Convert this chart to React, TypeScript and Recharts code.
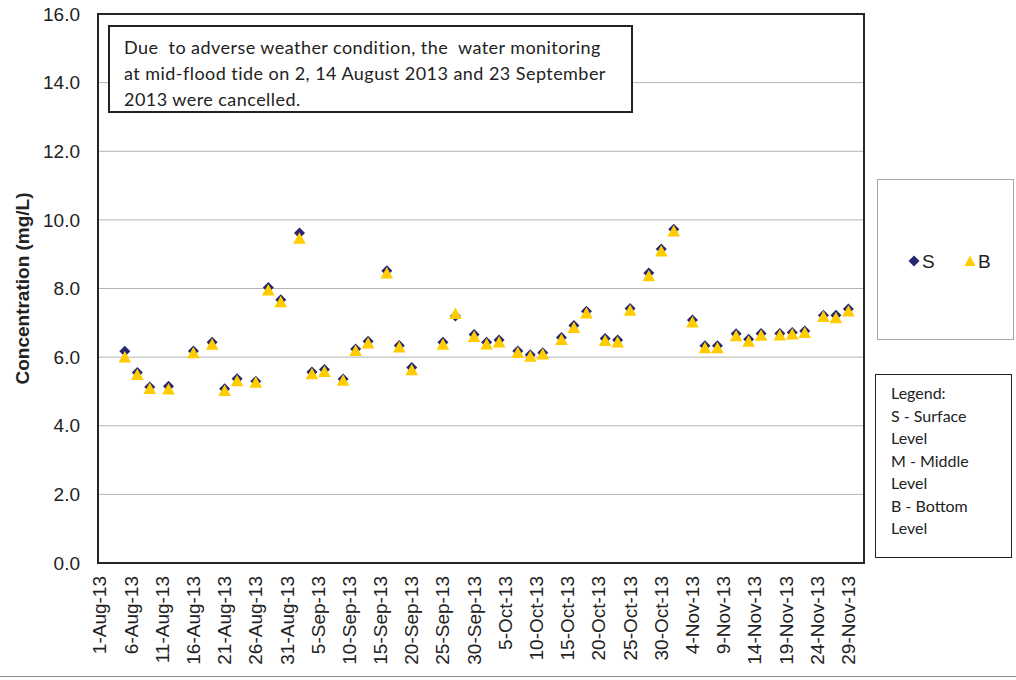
import { CartesianGrid, Legend, ReferenceArea, Scatter, ScatterChart, XAxis, YAxis } from 'recharts'

// fechas de muestreo (lun/mié/vie), sin 2-Ago, 14-Ago y 23-Sep
const fechas = [
  '2013-08-05', '2013-08-07', '2013-08-09', '2013-08-12', '2013-08-16', '2013-08-19', '2013-08-21', '2013-08-23',
  '2013-08-26', '2013-08-28', '2013-08-30',
  '2013-09-02', '2013-09-04', '2013-09-06', '2013-09-09', '2013-09-11', '2013-09-13', '2013-09-16', '2013-09-18',
  '2013-09-20', '2013-09-25', '2013-09-27', '2013-09-30',
  '2013-10-02', '2013-10-04', '2013-10-07', '2013-10-09', '2013-10-11', '2013-10-14', '2013-10-16', '2013-10-18',
  '2013-10-21', '2013-10-23', '2013-10-25', '2013-10-28', '2013-10-30',
  '2013-11-01', '2013-11-04', '2013-11-06', '2013-11-08', '2013-11-11', '2013-11-13', '2013-11-15', '2013-11-18',
  '2013-11-20', '2013-11-22', '2013-11-25', '2013-11-27', '2013-11-29',
]

const superficie = [
  6.17, 5.55, 5.13, 5.15, 6.18, 6.43, 5.08, 5.37, 5.3, 8.03, 7.67,
  9.62, 5.57, 5.64, 5.36, 6.24, 6.46, 8.52, 6.34, 5.7, 6.43, 7.2, 6.66,
  6.43, 6.5, 6.18, 6.07, 6.13, 6.57, 6.92, 7.34, 6.54, 6.5, 7.42, 8.45, 9.15,
  9.73, 7.08, 6.33, 6.33, 6.68, 6.52, 6.69, 6.69, 6.72, 6.76, 7.22, 7.22, 7.4,
]

const fondo = [
  6.01, 5.5, 5.09, 5.08, 6.13, 6.38, 5.03, 5.32, 5.27, 7.96, 7.62,
  9.47, 5.52, 5.59, 5.33, 6.2, 6.42, 8.46, 6.3, 5.64, 6.38, 7.28, 6.61,
  6.39, 6.45, 6.14, 6.03, 6.1, 6.52, 6.87, 7.29, 6.49, 6.45, 7.37, 8.38, 9.1,
  9.68, 7.03, 6.28, 6.28, 6.63, 6.47, 6.64, 6.65, 6.68, 6.72, 7.19, 7.15, 7.35,
]

const ticksY = [0, 2, 4, 6, 8, 10, 12, 14, 16]
const ticksX = [0, 5, 10, 15, 20, 25, 30, 35, 40, 45, 50, 55, 60, 65, 70, 75, 80, 85, 90, 95, 100, 105, 110, 115, 120]
const meses = ['Jan', 'Feb', 'Mar', 'Apr', 'May', 'Jun', 'Jul', 'Aug', 'Sep', 'Oct', 'Nov', 'Dec']

const DIA = 86400000
const inicio = Date.UTC(2013, 7, 1)
const dominioX: [number, number] = [-0.3, 122.5]

function aDia(fecha: string) {
  const [a, m, d] = fecha.split('-').map(Number)
  return (Date.UTC(a, m - 1, d) - inicio) / DIA
}

function etiquetaFecha(dia: number) {
  const f = new Date(inicio + dia * DIA)
  return `${f.getUTCDate()}-${meses[f.getUTCMonth()]}-13`
}

const datosS = fechas.map((f, i) => ({ dia: aDia(f), valor: superficie[i] }))
const datosB = fechas.map((f, i) => ({ dia: aDia(f), valor: fondo[i] }))

const AZUL = '#262673'
const AMARILLO = '#ffcc00'
const fuente = '"Liberation Sans", Arial, sans-serif'

function Rombo(props: any) {
  const { cx, cy } = props
  const r = 5.5
  return <polygon points={`${cx},${cy - r} ${cx + r},${cy} ${cx},${cy + r} ${cx - r},${cy}`} fill={AZUL} />
}

function Triangulo(props: any) {
  const { cx, cy } = props
  return <polygon points={`${cx},${cy - 5.8} ${cx + 6.3},${cy + 5.7} ${cx - 6.3},${cy + 5.7}`} fill={AMARILLO} />
}

function TickFecha(props: any) {
  const { x, y, payload } = props
  const ty = y + 5
  return (
    <text
      x={x}
      y={ty}
      transform={`rotate(-90, ${x}, ${ty})`}
      textAnchor="end"
      dominantBaseline="central"
      fontSize={19}
      fontFamily={fuente}
      fill="#222"
    >
      {etiquetaFecha(payload.value)}
    </text>
  )
}

function LeyendaSB() {
  return (
    <div
      style={{
        boxSizing: 'border-box',
        width: 137,
        height: 161,
        border: '1px solid #a6a6a6',
        background: '#fff',
        position: 'relative',
      }}
    >
      <svg width={137} height={161} style={{ position: 'absolute', left: 0, top: 0 }}>
        <polygon points="36,75.5 41.5,81 36,86.5 30.5,81" fill={AZUL} />
        <text x={44} y={81} dominantBaseline="central" fontSize={19} fontFamily={fuente} fill="#222">S</text>
        <polygon points="92,75.5 97.5,86 86.5,86" fill={AMARILLO} />
        <text x={100} y={81} dominantBaseline="central" fontSize={19} fontFamily={fuente} fill="#222">B</text>
      </svg>
    </div>
  )
}

export default function App() {
  return (
    <div style={{ position: 'absolute', left: 0, top: 0, width: 1016, height: 680, background: '#fff', overflow: 'hidden' }}>
      <ScatterChart width={1016} height={680} margin={{ top: 14, right: 152, bottom: 0, left: 0 }}>
        <CartesianGrid vertical={false} stroke="#b3b3b3" strokeWidth={1} />
        <XAxis
          type="number"
          dataKey="dia"
          domain={dominioX}
          ticks={ticksX}
          interval={0}
          height={117}
          axisLine={false}
          tickLine={false}
          tick={<TickFecha />}
          allowDataOverflow
        />
        <YAxis
          type="number"
          dataKey="valor"
          domain={[0, 16]}
          ticks={ticksY}
          interval={0}
          width={98}
          axisLine={false}
          tickLine={false}
          tickSize={6}
          tickMargin={12}
          tickFormatter={(v: number) => v.toFixed(1)}
          tick={{ fontSize: 19, fontFamily: fuente, fill: '#222' }}
          label={{
            content: () => (
              <text
                x={22}
                y={288.5}
                transform="rotate(-90, 22, 288.5)"
                textAnchor="middle"
                dominantBaseline="central"
                fontSize={19}
                fontWeight="bold"
                fontFamily={fuente}
                fill="#222"
              >
                Concentration (mg/L)
              </text>
            ),
          }}
        />
        <Scatter name="S" data={datosS} shape={<Rombo />} isAnimationActive={false} legendType="diamond" fill={AZUL} />
        <Scatter name="B" data={datosB} shape={<Triangulo />} isAnimationActive={false} legendType="triangle" fill={AMARILLO} />
        <ReferenceArea x1={dominioX[0]} x2={dominioX[1]} y1={0} y2={16} fill="none" stroke="#262626" strokeWidth={2} />
        <Legend
          layout="horizontal"
          verticalAlign="middle"
          align="center"
          content={() => <LeyendaSB />}
          wrapperStyle={{ position: 'absolute', left: 877, top: 179, width: 137, height: 161 }}
        />
      </ScatterChart>

      <div
        style={{
          position: 'absolute',
          left: 108,
          top: 25,
          width: 525,
          height: 88,
          boxSizing: 'border-box',
          border: '2px solid #222',
          background: '#fff',
          padding: '7px 0 0 14px',
          fontFamily: 'Lato, "Open Sans", sans-serif',
          fontSize: 18,
          letterSpacing: '0.45px',
          lineHeight: '26px',
          color: '#222',
          whiteSpace: 'pre',
        }}
      >
        <div>{'Due  to adverse weather condition, the  water monitoring'}</div>
        <div>{'at mid-flood tide on 2, 14 August 2013 and 23 September'}</div>
        <div>{'2013 were cancelled.'}</div>
      </div>

      <div
        style={{
          position: 'absolute',
          left: 875,
          top: 374,
          width: 137,
          height: 184,
          boxSizing: 'border-box',
          border: '1.5px solid #222',
          background: '#fff',
          padding: '7px 0 0 15px',
          fontFamily: 'Lato, "Open Sans", sans-serif',
          fontSize: 16,
          lineHeight: '22.5px',
          color: '#222',
        }}
      >
        <div>Legend:</div>
        <div>S - Surface</div>
        <div>Level</div>
        <div>M - Middle</div>
        <div>Level</div>
        <div>B - Bottom</div>
        <div>Level</div>
      </div>

      <div style={{ position: 'absolute', left: 0, top: 676, width: 1016, height: 1, background: '#8c8c8c' }} />
    </div>
  )
}
